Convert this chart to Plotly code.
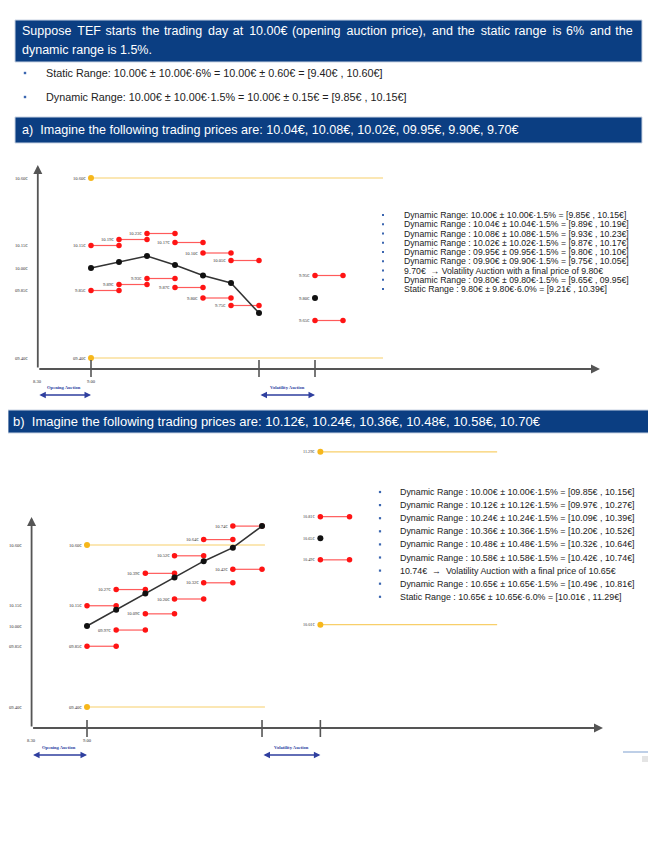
import plotly.graph_objects as go

W, H = 656, 848          # browser window
OFF = 8                  # default page margin of the html body
FW, FH = W - OFF, H - 2 * OFF

# ---------------- data ----------------
header_lines = ["Suppose TEF starts the trading day at 10.00€ (opening auction price), and the static range is 6% and the",
                "dynamic range is 1.5%."]
intro_bullets = ["Static Range: 10.00€ ± 10.00€·6% = 10.00€ ± 0.60€ = [9.40€ , 10.60€]",
                 "Dynamic Range: 10.00€ ± 10.00€·1.5% = 10.00€ ± 0.15€ = [9.85€ , 10.15€]"]
title_a = "a)  Imagine the following trading prices are: 10.04€, 10.08€, 10.02€, 09.95€, 9.90€, 9.70€"
title_b = "b)  Imagine the following trading prices are: 10.12€, 10.24€, 10.36€, 10.48€, 10.58€, 10.70€"

time_labels = ["8.30", "9.00"]
time_pos = [-1.9, 0]           # 8.30 , 9.00 (opening auction)
vol_start, vol_end, after_end = 6, 8, 9

# chart a
a_steps = [0, 1, 2, 3, 4, 5, 6]
a_prices = [10.00, 10.04, 10.08, 10.02, 9.95, 9.90, 9.70]
a_dyn_low = [9.85, 9.89, 9.93, 9.87, 9.80, 9.75]
a_dyn_high = [10.15, 10.19, 10.23, 10.17, 10.10, 10.05]
a_static = [10.60, 9.40]
a_auction_price = 9.80
a_after = [9.65, 9.95]
a_axis_vals = [10.60, 10.15, 10.00, 9.85, 9.40]
a_static_end = 10.43
a_list = ["Dynamic Range: 10.00€ ± 10.00€·1.5% = [9.85€ , 10.15€]",
          "Dynamic Range : 10.04€ ± 10.04€·1.5% = [9.89€ , 10.19€]",
          "Dynamic Range : 10.08€ ± 10.08€·1.5% = [9.93€ , 10.23€]",
          "Dynamic Range : 10.02€ ± 10.02€·1.5% = [9.87€ , 10.17€]",
          "Dynamic Range : 09.95€ ± 09.95€·1.5% = [9.80€ , 10.10€]",
          "Dynamic Range : 09.90€ ± 09.90€·1.5% = [9.75€ , 10.05€]",
          "9.70€  → Volatility Auction with a final price of 9.80€",
          "Dynamic Range : 09.80€ ± 09.80€·1.5% = [9.65€ , 09.95€]",
          "Static Range : 9.80€ ± 9.80€·6.0% = [9.21€ , 10.39€]"]

# chart b
b_steps = [0, 1, 2, 3, 4, 5, 6]
b_prices = [10.00, 10.12, 10.24, 10.36, 10.48, 10.58, 10.74]
b_dyn_low = [9.85, 9.97, 10.09, 10.20, 10.32, 10.42]
b_dyn_high = [10.15, 10.27, 10.39, 10.52, 10.64, 10.74]
b_static = [10.60, 9.40]
b_auction_price = 10.65
b_after = [10.49, 10.81]
b_after_static = [10.01, 11.29]
b_axis_vals = [10.60, 10.15, 10.00, 9.85, 9.40]
b_static_end = 6.1
b_after_static_end = 14.06
b_list = ["Dynamic Range : 10.00€ ± 10.00€·1.5% = [09.85€ , 10.15€]",
          "Dynamic Range : 10.12€ ± 10.12€·1.5% = [09.97€ , 10.27€]",
          "Dynamic Range : 10.24€ ± 10.24€·1.5% = [10.09€ , 10.39€]",
          "Dynamic Range : 10.36€ ± 10.36€·1.5% = [10.20€ , 10.52€]",
          "Dynamic Range : 10.48€ ± 10.48€·1.5% = [10.32€ , 10.64€]",
          "Dynamic Range : 10.58€ ± 10.58€·1.5% = [10.42€ , 10.74€]",
          "10.74€  →  Volatility Auction with a final price of 10.65€",
          "Dynamic Range : 10.65€ ± 10.65€·1.5% = [10.49€ , 10.81€]",
          "Static Range : 10.65€ ± 10.65€·6.0% = [10.01€ , 11.29€]"]

# ---------------- styles ----------------
NAVY = "#0b3e82"
RED = "#ff1414"
REDLINE = "#ff5a5a"
YEL = "#f6b71c"
YELLINE = "#f8cf6a"
BLK = "#111111"
AXC = "#555555"
BLUE_ARROW = "#2f3f9f"
BULLET = "#3b66b0"
SERIF = "Liberation Serif"
SANS = "Liberation Sans"

fig = go.Figure()
shapes, annots = [], []


def px(x):
    return (x - OFF) / FW


def py(y):
    return 1 - (y - OFF) / FH


# geometry of the two diagrams (page-pixel domains) and scales
A = dict(xa="x", ya="y", dom=(160, 400), x0px=91, xstep=28.0, y0px=268, yscale=150.0, xaxis_end_px=600)
B = dict(xa="x2", ya="y2", dom=(440, 790), x0px=87, xstep=29.17, y0px=626, yscale=135.0, xaxis_end_px=603)
for G in (A, B):
    top, bot = G["dom"]
    G["yr"] = [10.00 - (bot - G["y0px"]) / G["yscale"], 10.00 + (G["y0px"] - top) / G["yscale"]]
    G["xr"] = [(OFF - G["x0px"]) / G["xstep"], (OFF + FW - G["x0px"]) / G["xstep"]]


def yv(G, ypix):
    top, bot = G["dom"]
    return G["yr"][1] - (ypix - top) / (bot - top) * (G["yr"][1] - G["yr"][0])


def xv(G, xpix):
    return (xpix - G["x0px"]) / G["xstep"]


def f0(v):
    return f"{v:05.2f}€"


def f1(v):
    return f"{v:.2f}€"


def label(G, x, y, text, size=4.6):
    annots.append(dict(x=x, y=y, xref=G["xa"], yref=G["ya"], text=text, showarrow=False,
                       xanchor="right", xshift=-3, font=dict(family=SERIF, size=size, color="#333")))


def seg(G, x0, x1, y, color, lw, mcolor, msize):
    fig.add_trace(go.Scatter(x=[x0, x1], y=[y, y], xaxis=G["xa"], yaxis=G["ya"], mode="lines+markers",
                             line=dict(color=color, width=lw), marker=dict(color=mcolor, size=msize),
                             showlegend=False, hoverinfo="skip", cliponaxis=False))


def draw_frame(G, axis_vals, xaxis_y_px, yaxis_top_px, tick_y_px, arrow_y_px):
    xa, ya = G["xa"], G["ya"]
    xl = time_pos[0]
    yb = yv(G, xaxis_y_px)
    annots.append(dict(x=xl, y=yv(G, yaxis_top_px), ax=xl, ay=yb, xref=xa, yref=ya, axref=xa, ayref=ya,
                       showarrow=True, arrowhead=2, arrowsize=1, arrowwidth=1.8, arrowcolor=AXC, text="", standoff=0))
    annots.append(dict(x=xv(G, G["xaxis_end_px"]), y=yb, ax=xl, ay=yb, xref=xa, yref=ya, axref=xa, ayref=ya,
                       showarrow=True, arrowhead=2, arrowsize=1, arrowwidth=1.8, arrowcolor=AXC, text="", standoff=0))
    for t in [time_pos[1], vol_start, vol_end]:
        shapes.append(dict(type="line", xref=xa, yref=ya, x0=t, x1=t, y0=yv(G, tick_y_px[0]), y1=yv(G, tick_y_px[1]),
                           line=dict(color=AXC, width=1.6)))
    for v in axis_vals:
        annots.append(dict(x=xl, y=v, xref=xa, yref=ya, text=f0(v), showarrow=False, xanchor="right", xshift=-8,
                           font=dict(family=SERIF, size=4.6, color="#333")))
    for t, s in zip(time_pos, time_labels):
        annots.append(dict(x=t, y=yb, xref=xa, yref=ya, text=s, showarrow=False, yanchor="top", yshift=-8,
                           font=dict(family=SERIF, size=4.6, color="#333")))
    for (x0, x1, s) in [(time_pos[0], time_pos[1], "<b>Opening Auction</b>"),
                        (vol_start, vol_end, "<b>Volatility Auction</b>")]:
        ya_ = yv(G, arrow_y_px)
        annots.append(dict(x=x1, y=ya_, ax=x0, ay=ya_, xref=xa, yref=ya, axref=xa, ayref=ya, showarrow=True,
                           arrowhead=2, startarrowhead=2, arrowside="end+start", arrowsize=1, arrowwidth=1.3,
                           arrowcolor=BLUE_ARROW, text="", standoff=0, startstandoff=0))
        annots.append(dict(x=(x0 + x1) / 2, y=ya_, xref=xa, yref=ya, text=s, showarrow=False, yanchor="bottom",
                           yshift=3, font=dict(family=SERIF, size=4.6, color=BLUE_ARROW)))


# ---------------- chart a ----------------
draw_frame(A, a_axis_vals, 369, 165, (360, 377), 395)
for v in a_static:
    seg(A, 0, a_static_end, v, YELLINE, 1.2, [YEL, "rgba(0,0,0,0)"], 6)
    label(A, 0, v, f0(v))
for i in range(len(a_dyn_low)):
    for v in (a_dyn_high[i], a_dyn_low[i]):
        seg(A, a_steps[i], a_steps[i] + 1, v, REDLINE, 1.2, RED, 5.5)
        label(A, a_steps[i], v, f1(v))
fig.add_trace(go.Scatter(x=a_steps, y=a_prices, xaxis="x", yaxis="y", mode="lines+markers",
                         line=dict(color="#333", width=1.5), marker=dict(color=BLK, size=6),
                         showlegend=False, hoverinfo="skip"))
for v in a_after:
    seg(A, vol_end, after_end, v, REDLINE, 1.2, RED, 5.5)
    label(A, vol_end, v, f1(v))
fig.add_trace(go.Scatter(x=[vol_end], y=[a_auction_price], xaxis="x", yaxis="y", mode="markers",
                         marker=dict(color=BLK, size=6), showlegend=False, hoverinfo="skip"))
label(A, vol_end, a_auction_price, f1(a_auction_price))

# ---------------- chart b ----------------
draw_frame(B, b_axis_vals, 728, 517, (720, 737), 755)
for v in b_static:
    seg(B, 0, b_static_end, v, YELLINE, 1.2, [YEL, "rgba(0,0,0,0)"], 6)
    label(B, 0, v, f0(v))
for i in range(len(b_dyn_low)):
    for v in (b_dyn_high[i], b_dyn_low[i]):
        seg(B, b_steps[i], b_steps[i] + 1, v, REDLINE, 1.2, RED, 5.5)
        label(B, b_steps[i], v, f0(v))
fig.add_trace(go.Scatter(x=b_steps, y=b_prices, xaxis="x2", yaxis="y2", mode="lines+markers",
                         line=dict(color="#333", width=1.5), marker=dict(color=BLK, size=6),
                         showlegend=False, hoverinfo="skip"))
for v in b_after:
    seg(B, vol_end, after_end, v, REDLINE, 1.2, RED, 5.5)
    label(B, vol_end, v, f0(v), size=4.2)
for v in b_after_static:
    seg(B, vol_end, b_after_static_end, v, YELLINE, 1.2, [YEL, "rgba(0,0,0,0)"], 6)
    label(B, vol_end, v, f0(v), size=4.2)
fig.add_trace(go.Scatter(x=[vol_end], y=[b_auction_price], xaxis="x2", yaxis="y2", mode="markers",
                         marker=dict(color=BLK, size=6), showlegend=False, hoverinfo="skip"))
label(B, vol_end, b_auction_price, f0(b_auction_price), size=4.2)


# ---------------- text blocks ----------------
def box(x0, y0, x1, y1):
    shapes.append(dict(type="rect", xref="paper", yref="paper", x0=px(x0), x1=px(x1), y0=py(y1), y1=py(y0),
                       fillcolor=NAVY, line=dict(color="#c9d3e3", width=1), layer="below"))


def text(x, y, s, size, color="#222", family=SANS):
    annots.append(dict(x=px(x), y=py(y), xref="paper", yref="paper", text=s, showarrow=False, xanchor="left",
                       yanchor="middle", font=dict(family=family, size=size, color=color)))


def bullet(x, y, s=2.4):
    shapes.append(dict(type="rect", xref="paper", yref="paper", x0=px(x - s / 2), x1=px(x + s / 2),
                       y0=py(y + s / 2), y1=py(y - s / 2), fillcolor=BULLET, line=dict(width=0)))


def justified(s):
    # the first header line is justified in the original: widen word gaps slightly
    words = s.split(" ")
    out = words[0]
    for k, w in enumerate(words[1:]):
        out += (" \u2009" if k % 2 == 0 else " \u200a") + w
    return out


box(15, 20, 642, 62)
text(20, 31, justified(header_lines[0]), 12.5, "white")
text(20, 50, header_lines[1], 12.5, "white")
for i, s in enumerate(intro_bullets):
    y = 73 + 24 * i
    bullet(25, y)
    text(44, y, s, 10.8)
box(15, 117, 642, 143)
text(20, 130, title_a, 12.6, "white")
box(8, 410, 651, 433)
text(11, 421.5, title_b, 13.0, "white")

for i, s in enumerate(a_list):
    y = 215 + 9.25 * i
    bullet(383, y, 2.0)
    text(402, y, s, 8.7)
for i, s in enumerate(b_list):
    y = 492 + 13.1 * i
    bullet(380, y, 2.2)
    text(398, y, s, 8.9)

# small artifact bottom right
shapes.append(dict(type="line", xref="paper", yref="paper", x0=px(623), x1=px(656), y0=py(752), y1=py(752),
                   line=dict(color="#7f9fd0", width=1.2)))
shapes.append(dict(type="rect", xref="paper", yref="paper", x0=px(642), x1=px(654), y0=py(762), y1=py(756),
                   fillcolor="#e4e4e4", line=dict(width=0)))


# ---------------- axes / layout ----------------
def ax_common(r):
    return dict(range=r, visible=False, fixedrange=True)


fig.update_layout(
    width=FW, height=FH, margin=dict(l=0, r=0, t=0, b=0), autosize=False,
    paper_bgcolor="white", plot_bgcolor="rgba(0,0,0,0)", showlegend=False,
    xaxis=dict(domain=[0, 1], anchor="y", **ax_common(A["xr"])),
    yaxis=dict(domain=[py(A["dom"][1]), py(A["dom"][0])], anchor="x", **ax_common(A["yr"])),
    xaxis2=dict(domain=[0, 1], anchor="y2", **ax_common(B["xr"])),
    yaxis2=dict(domain=[py(B["dom"][1]), py(B["dom"][0])], anchor="x2", **ax_common(B["yr"])),
    shapes=shapes, annotations=annots,
)

fig.write_html("out.html")
